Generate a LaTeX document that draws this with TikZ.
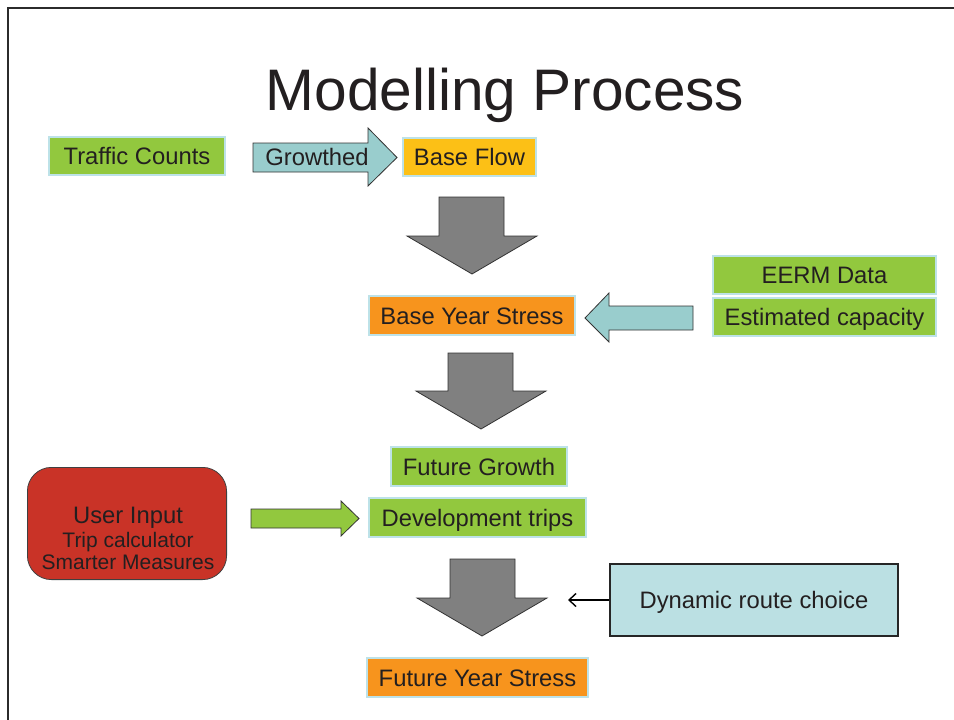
\documentclass[tikz,border=0pt]{standalone}
\usepackage{fontspec}
\setmainfont{Liberation Sans}
\usetikzlibrary{arrows.meta}
\definecolor{txt}{HTML}{231F20}
\definecolor{boxgreen}{HTML}{92C83E}
\definecolor{edgeblue}{HTML}{BDE2E8}
\definecolor{yellowor}{HTML}{FCC016}
\definecolor{orangebx}{HTML}{F7941D}
\definecolor{tealarr}{HTML}{99CDCD}
\definecolor{grayarr}{HTML}{808080}
\definecolor{redbox}{HTML}{C93327}
\definecolor{drcfill}{HTML}{BBE0E3}
\definecolor{frameline}{HTML}{2B2B2B}
\tikzset{
  lbl/.style={text=txt, font=\fontsize{23.8}{26}\selectfont, inner sep=0pt,
              text height=21.4pt, text depth=4.2pt},
  pbox/.style={lbl, rectangle, draw=edgeblue, line width=2.4pt},
  greenbox/.style={pbox, fill=boxgreen},
  blockarrow/.style={draw=black!80, line width=0.8pt, line join=miter},
}
\begin{document}
\begin{tikzpicture}[x=1pt,y=-1pt]
\useasboundingbox (0,0) rectangle (954,720);
\fill[white] (0,0) rectangle (954,720);
% frame
\draw[frameline, line width=2pt] (8,721) -- (8,8) -- (955,8);

% title
\node[text=txt, font=\fontsize{58.6}{60}\selectfont, anchor=base, inner sep=0pt] (title) at (505,110) {Modelling Process};

% boxes
\node[greenbox, minimum width=175.6pt, minimum height=37.6pt] (tc) at (137,156) {Traffic Counts};
\node[pbox, fill=yellowor, minimum width=132.6pt, minimum height=37.6pt] (bf) at (469.5,157) {Base Flow};
\node[pbox, fill=orangebx, minimum width=205.6pt, minimum height=38.6pt] (bys) at (472,315.5) {Base Year Stress};
\node[greenbox, minimum width=222.6pt, minimum height=37.6pt] (eerm) at (824.5,275) {EERM Data};
\node[greenbox, minimum width=222.6pt, minimum height=37.6pt] (ec) at (824.5,317) {Estimated capacity};
\node[greenbox, minimum width=175.6pt, minimum height=38.6pt] (fg) at (479,466.5) {Future Growth};
\node[greenbox, minimum width=216.6pt, minimum height=38.6pt] (dt) at (477.5,517.5) {Development trips};
\node[pbox, fill=orangebx, minimum width=220.6pt, minimum height=38.6pt] (fys) at (477.5,677.5) {Future Year Stress};
\node[lbl, rectangle, draw=black!85, line width=1.6pt, fill=drcfill, minimum width=288.4pt, minimum height=72.4pt] (drc) at (754,600) {Dynamic route choice};

% user input
\node[rectangle, rounded corners=24pt, draw=black!75, line width=0.8pt, fill=redbox, minimum width=199.2pt, minimum height=112.2pt] (ui) at (127,523.5) {};
\node[text=txt, font=\fontsize{23.8}{26}\selectfont, anchor=base, inner sep=0pt] (ui1) at (128,523) {User Input};
\node[text=txt, font=\fontsize{21}{24}\selectfont, anchor=base, inner sep=0pt] (ui2) at (128,547) {Trip calculator};
\node[text=txt, font=\fontsize{21}{24}\selectfont, anchor=base, inner sep=0pt] (ui3) at (128,569.5) {Smarter Measures};

% Growthed arrow
\draw[blockarrow, fill=tealarr] (253,143) -- (368,143) -- (368,128) -- (397,157.5) -- (368,186) -- (368,172) -- (253,172) -- cycle;
\node[text=txt, font=\fontsize{23.8}{26}\selectfont, anchor=base, inner sep=0pt] (gr) at (317,165.5) {Growthed};

% gray down arrows
\draw[blockarrow, fill=grayarr] (439,197) -- (504,197) -- (504,236) -- (537,236) -- (472,274) -- (407,236) -- (439,236) -- cycle;
\draw[blockarrow, fill=grayarr] (448,353) -- (513,353) -- (513,391) -- (546,391) -- (481,429) -- (416,391) -- (448,391) -- cycle;
\draw[blockarrow, fill=grayarr] (450,559) -- (515,559) -- (515,598) -- (547,598) -- (482,636) -- (417,598) -- (450,598) -- cycle;

% teal left arrow
\draw[blockarrow, fill=tealarr] (693,306) -- (609,306) -- (609,293) -- (585,318) -- (609,342) -- (609,330) -- (693,330) -- cycle;

% green right arrow
\draw[blockarrow, fill=boxgreen] (251,509) -- (341,509) -- (341,501) -- (359,518.5) -- (341,536) -- (341,528) -- (251,528) -- cycle;

% thin arrow
\coordinate (drctip) at (568,600);
\draw[-{Straight Barb[length=7pt,width=13pt,line width=1.4pt]}, line width=1.4pt, black] (drc.west) -- (drctip);
\end{tikzpicture}
\end{document}
